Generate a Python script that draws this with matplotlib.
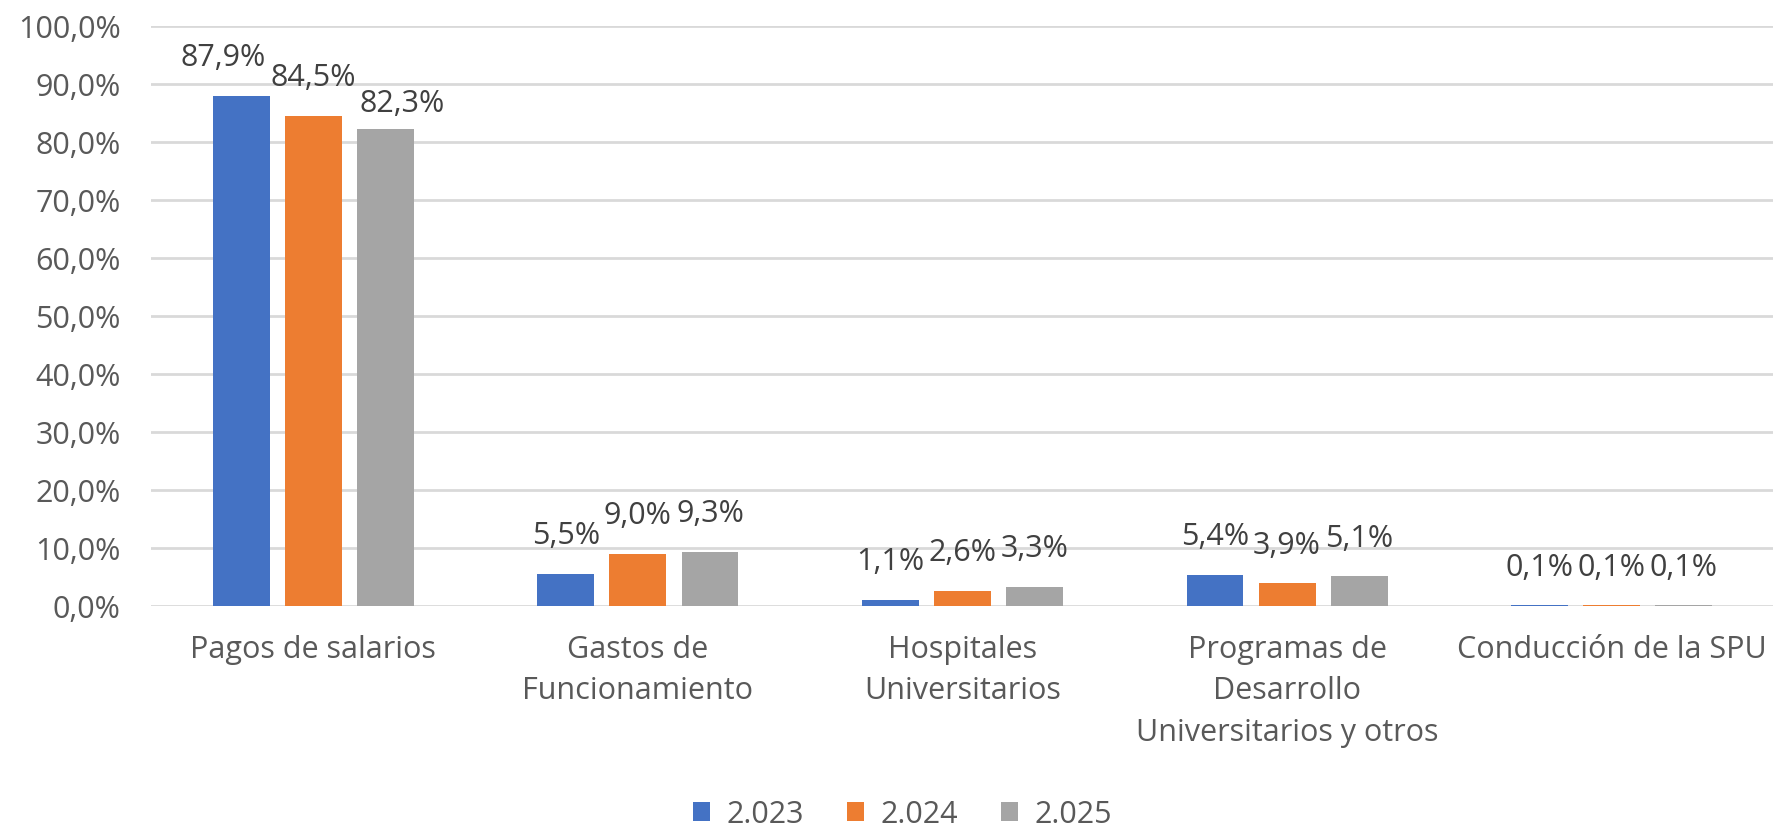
import matplotlib.pyplot as plt
import numpy as np

plt.rcParams['font.family'] = ['Open Sans', 'DejaVu Sans']

categorias = ['Pagos de salarios', 'Gastos de\nFuncionamiento', 'Hospitales\nUniversitarios',
              'Programas de\nDesarrollo\nUniversitarios y otros', 'Conducción de la SPU']
anios = ['2.023', '2.024', '2.025']
v2023 = [87.9, 5.5, 1.1, 5.4, 0.1]
v2024 = [84.5, 9.0, 2.6, 3.9, 0.1]
v2025 = [82.3, 9.3, 3.3, 5.1, 0.1]
colores = ['#4472C4', '#ED7D31', '#A5A5A5']

fig = plt.figure(figsize=(17.74, 8.29), dpi=100)
ax = fig.add_axes([151/1774, 1 - 607/829, (1774 - 151)/1774, 580/829])

x = np.arange(len(categorias))
ancho = 0.175
paso = 0.222

# etiquetas del primer grupo movidas a mano (como en el original)
ajustes = {(0, 0): (-0.055, 0), (0, 2): (0.052, -2.2)}

for i, (serie, anio) in enumerate(zip([v2023, v2024, v2025], anios)):
    pos = x + (i - 1) * paso
    ax.bar(pos, serie, ancho, color=colores[i], label=anio, zorder=3)
    for j, (px, v) in enumerate(zip(pos, serie)):
        dx, dy = ajustes.get((j, i), (0, 0))
        ax.text(px + dx, v + 6.7 + dy, f'{v:.1f}%'.replace('.', ','), ha='center', va='center',
                fontsize=22, color='#404040')

ax.set_xlim(-0.5, len(categorias) - 0.5)
ax.set_ylim(0, 100)
ax.set_yticks(np.arange(0, 101, 10))
ax.set_yticklabels([f'{t:.1f}%'.replace('.', ',') for t in np.arange(0, 101, 10)])
ax.set_xticks(x)
ax.set_xticklabels(categorias, linespacing=1.5)
ax.tick_params(axis='both', length=0, labelsize=22, colors='#595959')
ax.tick_params(axis='x', pad=20)
ax.tick_params(axis='y', pad=22)
ax.grid(axis='y', color='#D9D9D9', linewidth=2, zorder=0)
for s in ax.spines.values():
    s.set_visible(False)

ax.legend(loc='center', bbox_to_anchor=(0.463, -0.359), ncol=3, frameon=False,
          fontsize=22, labelcolor='#595959', handlelength=0.55, handleheight=0.55,
          columnspacing=1.4, handletextpad=0.55)

fig.savefig('out.png', dpi=100)
